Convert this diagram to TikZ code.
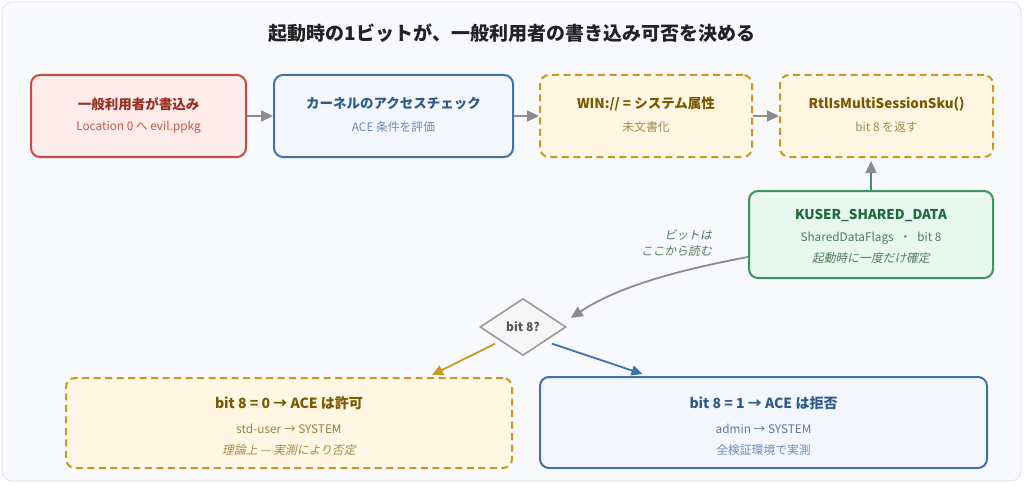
\documentclass[tikz,border=0pt]{standalone}
\usepackage{fontspec}
\setmainfont{Noto Sans CJK JP}
\newfontfamily\slfont[FakeSlant=0.2]{Noto Sans CJK JP}
\usetikzlibrary{arrows.meta,shapes.geometric}
\definecolor{bgc}{HTML}{F8F9FC}
\definecolor{bgline}{HTML}{E2E4EA}
\definecolor{redB}{HTML}{C94A3F}
\definecolor{redF}{HTML}{FDECEA}
\definecolor{redT}{HTML}{9A2E22}
\definecolor{redS}{HTML}{C4574B}
\definecolor{bluB}{HTML}{3E72A8}
\definecolor{bluF}{HTML}{F3F6FC}
\definecolor{bluT}{HTML}{2F5B8C}
\definecolor{bluS}{HTML}{6C8DB8}
\definecolor{golB}{HTML}{C9981F}
\definecolor{golF}{HTML}{FFF6E3}
\definecolor{golT}{HTML}{7A5800}
\definecolor{golS}{HTML}{A58A4B}
\definecolor{grnB}{HTML}{3A9563}
\definecolor{grnF}{HTML}{E9F8EF}
\definecolor{grnT}{HTML}{1E6A3C}
\definecolor{grnS}{HTML}{4F7D60}
\definecolor{arrG}{HTML}{8C8C8C}
\definecolor{diaB}{HTML}{9A9A9A}
\definecolor{diaF}{HTML}{F6F6F7}
\definecolor{diaT}{HTML}{555555}
\definecolor{ttlC}{HTML}{222222}
\tikzset{
  box/.style={rectangle, rounded corners=9pt, line width=2pt, inner sep=0pt},
  redbox/.style={box, draw=redB, fill=redF},
  blubox/.style={box, draw=bluB, fill=bluF},
  golbox/.style={box, draw=golB, fill=golF, dash pattern=on 7pt off 4.5pt},
  grnbox/.style={box, draw=grnB, fill=grnF},
  ttl/.style={inner sep=0pt, font=\bfseries\fontsize{13.5}{16}\selectfont},
  sub/.style={inner sep=0pt, font=\fontsize{11.8}{14}\selectfont},
  slt/.style={inner sep=0pt, font=\slfont\fontsize{11.8}{14}\selectfont},
  garrow/.style={draw=arrG, line width=2pt, -{Triangle[length=12pt,width=11pt]}},
}
\begin{document}
\begin{tikzpicture}[x=1pt,y=-1pt]
\useasboundingbox (0,0) rectangle (1024,484);
\draw[fill=bgc, draw=bgline, line width=1pt, rounded corners=10pt] (2,2) rectangle (1021,481);
\node[inner sep=0pt, font=\bfseries\fontsize{19}{22}\selectfont, text=ttlC] (title) at (512,33) {起動時の1ビットが、一般利用者の書き込み可否を決める};

% top row
\node[redbox, minimum width=215pt, minimum height=82pt] (b1) at (138.5,116) {};
\node[ttl, text=redT] (b1t) at (138.5,104) {一般利用者が書込み};
\node[sub, text=redS] (b1s) at (138.5,127) {Location 0 へ evil.ppkg};

\node[blubox, minimum width=239pt, minimum height=82pt] (b2) at (393.5,116) {};
\node[ttl, text=bluT] (b2t) at (393.5,104) {カーネルのアクセスチェック};
\node[sub, text=bluS] (b2s) at (393.5,127) {ACE 条件を評価};

\node[golbox, minimum width=212pt, minimum height=82pt] (b3) at (646,116) {};
\node[ttl, text=golT] (b3t) at (646,104) {WIN:// = システム属性};
\node[sub, text=golS] (b3s) at (646,127) {未文書化};

\node[golbox, minimum width=213pt, minimum height=82pt] (b4) at (886.5,116) {};
\node[ttl, text=golT] (b4t) at (886.5,104) {RtlIsMultiSessionSku()};
\node[sub, text=golS] (b4s) at (886.5,127) {bit 8 を返す};

\draw[garrow] (b1.east) -- (b2.west);
\draw[garrow] (b2.east) -- (b3.west);
\draw[garrow] (b3.east) -- (b4.west);

% KUSER
\node[grnbox, minimum width=244pt, minimum height=87pt] (k) at (871,234.5) {};
\node[ttl, text=grnT] (kt) at (871,215) {KUSER\_SHARED\_DATA};
\node[sub, text=grnS] (ks) at (871,238) {SharedDataFlags\enspace・\enspace bit 8};
\node[slt, text=grnS] (ki) at (871,258.5) {起動時に一度だけ確定};
\draw[draw=grnB, line width=2pt, -{Triangle[length=12pt,width=11pt,color=arrG]}, shorten >=3pt] (k.north) -- (k.north |- b4.south);

% diamond
\node[diamond, aspect=1.5, minimum width=86pt, minimum height=57pt, inner sep=0pt, draw=diaB, fill=diaF, line width=1.6pt] (d) at (523,327) {};
\node[inner sep=0pt, font=\bfseries\fontsize{12}{14}\selectfont, text=diaT] (dt) at (523,327) {bit 8?};

\draw[garrow, line width=1.8pt] ([yshift=-22.5pt]k.west) .. controls +(-75,14) and +(45,-30) .. ([xshift=4pt,yshift=9pt]d.east);
\node[inner sep=0pt, align=right, anchor=east, text=grnS, font=\slfont\fontsize{11.8}{16.5}\selectfont] (lbl) at (712,243) {ビットは\\ここから読む};

% bottom
\node[golbox, minimum width=446pt, minimum height=90pt] (y) at (289,423) {};
\node[ttl, text=golT, font=\bfseries\fontsize{14}{16}\selectfont] (yt) at (289,403) {bit 8 = 0 → ACE は許可};
\node[sub, text=golT!75] (ys) at (289,429) {std-user → SYSTEM};
\node[slt, text=golS] (yi) at (289,450.5) {理論上 — 実測により否定};

\node[blubox, minimum width=447pt, minimum height=91pt] (bl) at (763.5,422.5) {};
\node[ttl, text=bluT, font=\bfseries\fontsize{14}{16}\selectfont] (blt) at (763.5,403) {bit 8 = 1 → ACE は拒否};
\node[sub, text=bluS!85!black] (bls) at (763.5,429) {admin → SYSTEM};
\node[sub, text=bluS] (bli) at (763.5,450.5) {全検証環境で実測};

\draw[draw=golB, line width=1.8pt, -{Triangle[length=11pt,width=10pt]}] ([xshift=-6pt,yshift=-2pt]d.south west) -- ([xshift=143pt,yshift=2pt]y.north);
\draw[draw=bluB, line width=1.8pt, -{Triangle[length=11pt,width=10pt]}] ([xshift=7pt,yshift=-2pt]d.south east) -- ([xshift=-121pt,yshift=2pt]bl.north);
\end{tikzpicture}
\end{document}
